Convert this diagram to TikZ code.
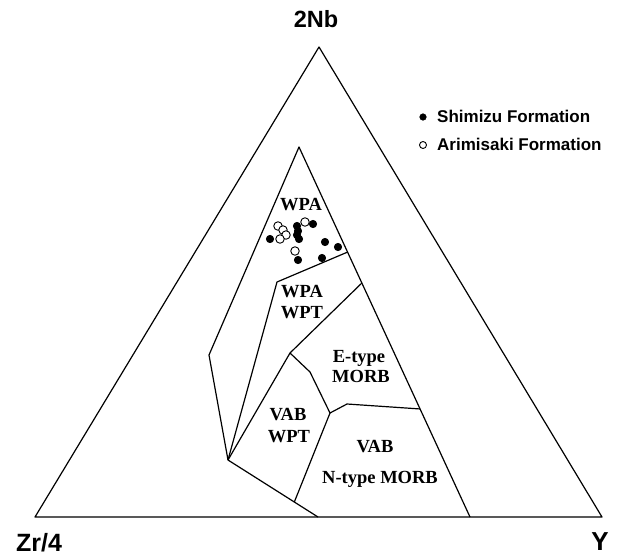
\documentclass[tikz,border=0pt]{standalone}
\usepackage{fontspec}
\usetikzlibrary{calc}
\setmainfont{Liberation Serif}
\newfontfamily\hvfont{Liberation Sans}
\tikzset{
  bline/.style={line width=1.2pt, line join=round},
  reglabel/.style={font=\bfseries\fontsize{18.5}{18.5}\selectfont, inner sep=0pt, anchor=base},
  axlabel/.style={font=\hvfont\bfseries\fontsize{26}{26}\selectfont, inner sep=0pt, anchor=base},
  leglabel/.style={font=\hvfont\bfseries\fontsize{17}{17}\selectfont, inner sep=0pt, anchor=base west},
  fdot/.style={circle, fill=black, draw=black, line width=0.6pt, minimum size=7.5pt, inner sep=0pt},
  odot/.style={circle, fill=white, draw=black, line width=0.9pt, minimum size=8.5pt, inner sep=0pt}
}
\begin{document}
\begin{tikzpicture}[x=1pt, y=-1pt]
\useasboundingbox (0,0) rectangle (619,558);
% outer triangle
\coordinate (T) at (319,47);
\coordinate (L) at (35,517);
\coordinate (R) at (602,517);
\draw[bline] (T) -- (L) -- (R) -- cycle;
% inner field
\coordinate (I) at (299,147);
\coordinate (A) at (209,355);
\coordinate (V) at (228,460);
\coordinate (B) at (318,517);
\coordinate (C) at (470,517);
\coordinate (P1) at ($(I)!0.284!(C)$);
\coordinate (P2) at ($(I)!0.3676!(C)$);
\coordinate (P3) at ($(I)!0.708!(C)$);
\coordinate (Q) at (277,282);
\coordinate (D) at (290,353);
\coordinate (DE) at (310,372);
\coordinate (E) at (330,413);
\coordinate (EK) at (347,404);
\coordinate (F) at ($(V)!0.737!(B)$);
\draw[bline] (C) -- (I) -- (A) -- (V) -- (B);
\draw[bline] (P1) -- (Q) -- (V);
\draw[bline] (P2) -- (D) -- (V);
\draw[bline] (D) -- (DE) -- (E) -- (EK) -- (P3);
\draw[bline] (E) -- (F);
% region labels
\node[reglabel] (wpa) at (301,210) {WPA};
\node[reglabel] (wpa2) at (302,297) {WPA};
\node[reglabel] (wpt2) at (302,318) {WPT};
\node[reglabel] (et) at (359,362) {E-type};
\node[reglabel] (em) at (361,382) {MORB};
\node[reglabel] (vab1) at (288,420) {VAB};
\node[reglabel] (wpt1) at (289,442) {WPT};
\node[reglabel] (vab2) at (375,452) {VAB};
\node[reglabel] (nm) at (380,483) {N-type MORB};
% axis labels
\node[axlabel, font=\hvfont\bfseries\fontsize{23.5}{23.5}\selectfont] (nb) at (316,27) {2Nb};
\node[axlabel, font=\hvfont\bfseries\fontsize{25}{25}\selectfont] (zr) at (39,551) {Zr/4};
\node[axlabel] (y) at (600,550) {Y};
% legend
\node[fdot, minimum size=6.5pt] (lf) at (423,117) {};
\node[leglabel] (lft) at (437,122) {Shimizu Formation};
\node[odot, minimum size=7pt] (lo) at (423,145) {};
\node[leglabel] (lot) at (437,150) {Arimisaki Formation};
% data: Arimisaki (open)
\node[odot] (o1) at (278,226) {};
\node[odot] (o2) at (283,230) {};
\node[odot] (o3) at (286,235) {};
\node[odot] (o4) at (280,239) {};
\node[odot] (o5) at (305,222) {};
\node[odot] (o6) at (295,251) {};
% data: Shimizu (filled)
\node[fdot] (f1) at (270,239) {};
\node[fdot] (f2) at (297,226) {};
\node[fdot] (f3) at (298,231) {};
\node[fdot] (f4) at (297,235) {};
\node[fdot] (f5) at (299,239) {};
\node[fdot] (f6) at (313,224) {};
\node[fdot] (f7) at (325,242) {};
\node[fdot] (f8) at (338,247) {};
\node[fdot] (f9) at (322,258) {};
\node[fdot] (f10) at (298,260) {};
\end{tikzpicture}
\end{document}
